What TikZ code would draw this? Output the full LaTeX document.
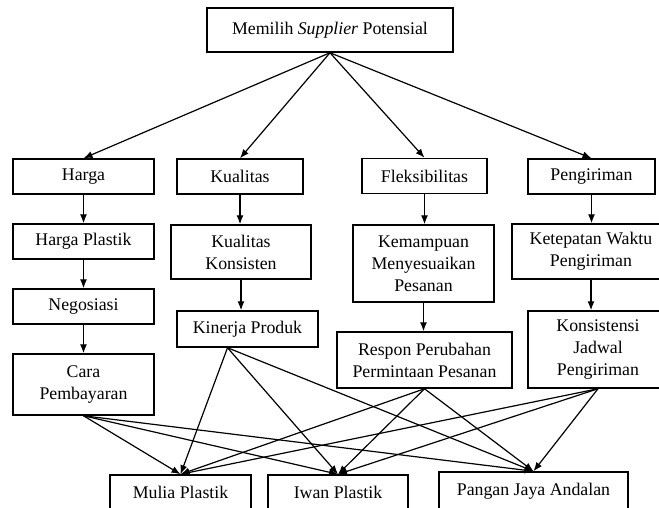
\documentclass[tikz,border=0pt]{standalone}
\usepackage{fontspec}
\setmainfont{Liberation Serif}
\usetikzlibrary{arrows.meta}

\begin{document}
\begin{tikzpicture}[x=1pt,y=-1pt,
  box/.style={draw, line width=1.5pt, align=center, inner sep=0pt, font=\fontsize{17.8}{22}\selectfont},
  arr/.style={-{Latex[length=9pt,width=7pt]}, line width=1.2pt}]
\useasboundingbox (0,0) rectangle (659,508);
\node[box, minimum width=246pt, minimum height=44pt] (top) at (330,30) {Memilih \textit{Supplier} Potensial};

\node[box, minimum width=141pt, minimum height=35pt] (harga) at (83.5,176.5) {Harga};
\node[box, minimum width=126pt, minimum height=35pt] (kualitas) at (240,176.5) {Kualitas};
\node[box, minimum width=125pt, minimum height=35pt] (fleks) at (424.5,176) {Fleksibilitas};
\node[box, minimum width=127pt, minimum height=35pt] (pengiriman) at (591.5,176.5) {Pengiriman};

\node[box, minimum width=141pt, minimum height=35pt] (hplastik) at (83.5,241.5) {Harga Plastik};
\node[box, minimum width=140pt, minimum height=54pt] (kkonsisten) at (241,252) {Kualitas\\Konsisten};
\node[box, minimum width=141pt, minimum height=77pt] (kemampuan) at (423.5,263.5) {Kemampuan\\Menyesuaikan\\Pesanan};
\node[box, minimum width=158pt, minimum height=55pt] (ketepatan) at (591,251.5) {Ketepatan Waktu\\Pengiriman};

\node[box, minimum width=141pt, minimum height=35pt] (negosiasi) at (83.5,306.5) {Negosiasi};
\node[box, minimum width=141pt, minimum height=36pt] (kinerja) at (247.5,329) {Kinerja Produk};
\node[box, minimum width=175pt, minimum height=56pt] (respon) at (424.5,360) {Respon Perubahan\\Permintaan Pesanan};
\node[box, minimum width=140pt, minimum height=77pt] (konsistensi) at (598,349.5) {Konsistensi\\Jadwal\\Pengiriman};
\node[box, minimum width=141pt, minimum height=61pt] (cara) at (83.5,384.5) {Cara\\Pembayaran};

\node[box, minimum width=141pt, minimum height=35pt] (mulia) at (180.5,492.5) {Mulia Plastik};
\node[box, minimum width=140pt, minimum height=35pt] (iwan) at (338,492.5) {Iwan Plastik};
\node[box, minimum width=189pt, minimum height=38pt] (pangan) at (533.5,491) {Pangan Jaya Andalan};

\foreach \t in {harga,kualitas,fleks,pengiriman}
  \draw[arr] (top.south) -- (\t.north);
\foreach \a/\b in {harga/hplastik,hplastik/negosiasi,negosiasi/cara,kualitas/kkonsisten,kkonsisten/kinerja,fleks/kemampuan,kemampuan/respon,pengiriman/ketepatan,ketepatan/konsistensi}
  \draw[arr] (\a.south) -- (\a.south |- \b.north);
\coordinate (kinerja-out) at ([xshift=-20pt]kinerja.south);
\foreach \s in {cara.south,kinerja-out,respon.south,konsistensi.south}
  \foreach \t in {mulia,iwan,pangan}
    \draw[arr] (\s) -- (\t.north);
\end{tikzpicture}
\end{document}
